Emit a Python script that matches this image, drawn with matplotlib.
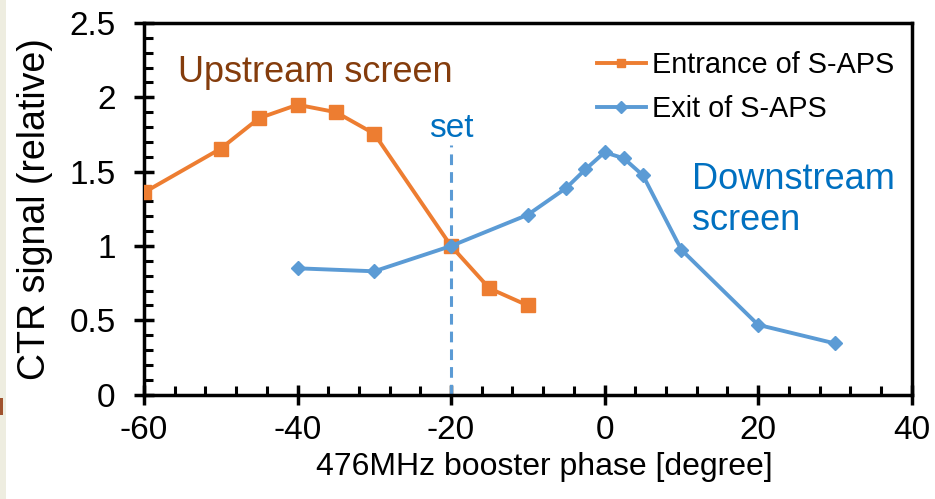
import matplotlib
matplotlib.use("Agg")
import matplotlib.pyplot as plt
from matplotlib.patches import Rectangle
from matplotlib.ticker import MultipleLocator

plt.rcParams['font.family'] = ['Liberation Sans', 'DejaVu Sans']
plt.rcParams['axes.unicode_minus'] = False

# Data
entrance_x = [-60, -50, -45, -40, -35, -30, -20, -15, -10]
entrance_y = [1.36, 1.655, 1.86, 1.95, 1.90, 1.755, 1.0, 0.715, 0.60]
exit_x = [-40, -30, -20, -10, -5, -2.5, 0, 2.5, 5, 10, 20, 30]
exit_y = [0.85, 0.83, 1.0, 1.21, 1.39, 1.515, 1.63, 1.59, 1.475, 0.975, 0.47, 0.345]
set_phase = -20
set_top = 1.68

ORANGE = '#ED7D31'
BLUE = '#5B9BD5'
DARKBLUE = '#0070C0'
BROWN = '#843C0C'

fig = plt.figure(figsize=(9.35, 4.99), dpi=100)
ax = fig.add_axes([0.154, 0.209, 0.821, 0.745])

# beige strip on left edge
fig.patches.append(Rectangle((0, 0), 0.006, 1, transform=fig.transFigure,
                             facecolor='#EEEDE0', edgecolor='none', zorder=0))
fig.patches.append(Rectangle((0, 0.168), 0.003, 0.034, transform=fig.transFigure,
                             facecolor='#A0522D', edgecolor='none', zorder=1))

ax.plot(entrance_x, entrance_y, color=ORANGE, lw=2.8, marker='s', ms=9.5,
        label='Entrance of S-APS', zorder=3)
ax.plot(exit_x, exit_y, color=BLUE, lw=2.8, marker='D', ms=7,
        label='Exit of S-APS', zorder=4)
ax.plot([set_phase, set_phase], [0, set_top], color=BLUE, lw=2.2, ls=(0, (3.5, 2.3)), zorder=2)

ax.set_xlim(-60, 40)
ax.set_ylim(0, 2.5)
ax.xaxis.set_major_locator(MultipleLocator(20))
ax.xaxis.set_minor_locator(MultipleLocator(4))
ax.yaxis.set_minor_locator(MultipleLocator(0.1))
ax.set_yticks([0, 0.5, 1, 1.5, 2, 2.5])
ax.set_yticklabels(['0', '0.5', '1', '1.5', '2', '2.5'])

for s in ax.spines.values():
    s.set_linewidth(2.5)
ax.tick_params(which='major', direction='inout', length=15, width=2.5, labelsize=24)
ax.tick_params(axis='y', which='major', pad=13)
ax.tick_params(axis='x', which='major', pad=7)
ax.tick_params(which='minor', direction='in', length=6.5, width=2.2)
ax.tick_params(top=False, right=False, which='both')

ax.set_xlabel('476MHz booster phase [degree]', fontsize=23)
ax.xaxis.set_label_coords(0.522, -0.155)
ax.set_ylabel('CTR signal (relative)', fontsize=27)
ax.yaxis.set_label_coords(-0.119, 0.5)

ax.text(-55.6, 2.17, 'Upstream screen', color=BROWN, fontsize=26, va='center', ha='left')
ax.text(11.4, 1.45, 'Downstream', color=DARKBLUE, fontsize=26, va='center', ha='left')
ax.text(11.4, 1.17, 'screen', color=DARKBLUE, fontsize=26, va='center', ha='left')
ax.text(set_phase, 1.79, 'set', color=DARKBLUE, fontsize=24, va='center', ha='center')

leg = ax.legend(loc='upper left', bbox_to_anchor=(0.575, 0.955), frameon=False, fontsize=20.8,
                handlelength=1.7, handletextpad=0.2, labelspacing=0.55, borderaxespad=0.0)
for h in leg.legend_handles:
    h.set_markersize(6)

fig.savefig('out.png', dpi=100)
